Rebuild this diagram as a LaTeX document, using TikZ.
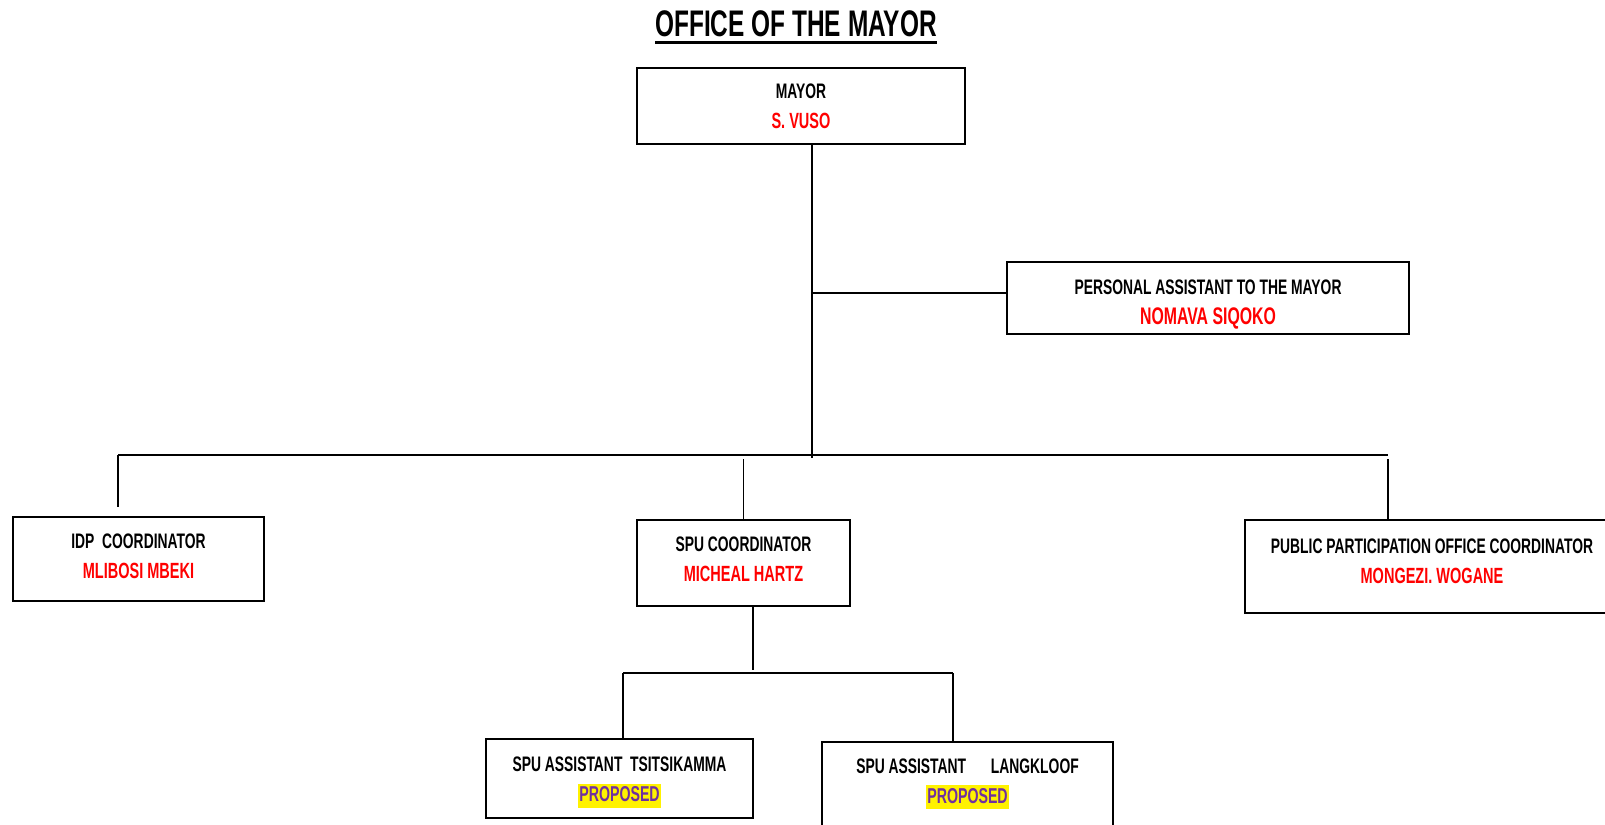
\documentclass[tikz,border=0pt]{standalone}
\usepackage{fontspec}
\setmainfont{Liberation Sans}[FakeStretch=0.66]
\usetikzlibrary{positioning}
\definecolor{nmred}{RGB}{255,0,0}
\definecolor{propviolet}{RGB}{112,48,160}
\newcommand{\person}[1]{{\fontsize{22}{30}\selectfont\color{nmred}#1}}
\newcommand{\proposed}{{\setlength{\fboxsep}{1pt}\colorbox{yellow}{\fontsize{21.5}{30}\selectfont\color{propviolet}\rule[-5pt]{0pt}{22pt}PROPOSED}}}
\newcommand{\lowpad}[1]{\rule[-#1]{0pt}{0pt}}

\begin{document}
\begin{tikzpicture}[x=1pt,y=-1pt,
      post/.style ={rectangle, draw, line width=1.5pt, inner sep=0pt, align=center, font=\bfseries\fontsize{21}{30}\selectfont},
      link/.style ={line width=1.5pt}
    ]
    \useasboundingbox (0,0) rectangle (1605,824);
    \node [anchor=base, inner sep=0pt, font=\bfseries\fontsize{37}{40}\selectfont] (title) at (796,37) {OFFICE OF THE MAYOR} ;
    \draw [line width=3pt] ([yshift=-6pt]title.base west) -- ([yshift=-6pt]title.base east) ;

    \node [post, minimum width=328, minimum height=76] (mayor) at (801,106) {MAYOR\\ \person{S. VUSO}} ;
    \node [post, minimum width=402, minimum height=72] (pa) at (1208,298) {\rule{0pt}{28pt}PERSONAL ASSISTANT TO THE MAYOR\\ {\fontsize{24}{31}\selectfont\color{nmred}NOMAVA SIQOKO}} ;
    \node [post, minimum width=251, minimum height=84] (idp) at (138.5,559) {IDP\ \ COORDINATOR\\ \person{MLIBOSI MBEKI\lowpad{5pt}}} ;
    \node [post, minimum width=213, minimum height=86] (spu) at (743.5,563) {SPU COORDINATOR\\ \person{MICHEAL HARTZ\lowpad{8pt}}} ;
    \node [post, minimum width=374, minimum height=93] (ppo) at (1432,566.5) {PUBLIC PARTICIPATION OFFICE COORDINATOR\\ \person{MONGEZI. WOGANE\lowpad{11pt}}} ;
    \node [post, minimum width=267, minimum height=79] (tsi) at (619.5,778.5) {\rule{0pt}{22pt}SPU ASSISTANT\ \ TSITSIKAMMA\\ \proposed} ;
    \node [post, minimum width=291, minimum height=86] (lang) at (967.5,785) {SPU ASSISTANT\quad\ LANGKLOOF\\ \proposed\lowpad{8pt}} ;

    \coordinate (trunk) at (812,458) ;
    \coordinate (busL) at (118,455) ;
    \coordinate (busR) at (1388,455) ;
    \coordinate (sub) at (753,673) ;
    \coordinate (subL) at (623,673) ;
    \coordinate (subR) at (953,673) ;

    \draw [link] (mayor.south -| trunk) -- (trunk) ;
    \draw [link] ([yshift=5pt]pa.west) -- ([yshift=5pt]pa.west -| trunk) ;
    \draw [link] (busL) -- (busR) ;
    \draw [link] (busL) -- ([yshift=9pt]busL |- idp.north) ;
    \draw [link] (spu.north) -- ([yshift=-4pt]spu.north |- busL) ;
    \draw [link] (busR |- ppo.north) -- ([yshift=-4pt]busR) ;
    \draw [link] (spu.south -| sub) -- ([yshift=3pt]sub) ;
    \draw [link] (subL) -- (subR) ;
    \draw [link] (subL) -- (subL |- tsi.north) ;
    \draw [link] (subR) -- (subR |- lang.north) ;
  \end{tikzpicture}
\end{document}
